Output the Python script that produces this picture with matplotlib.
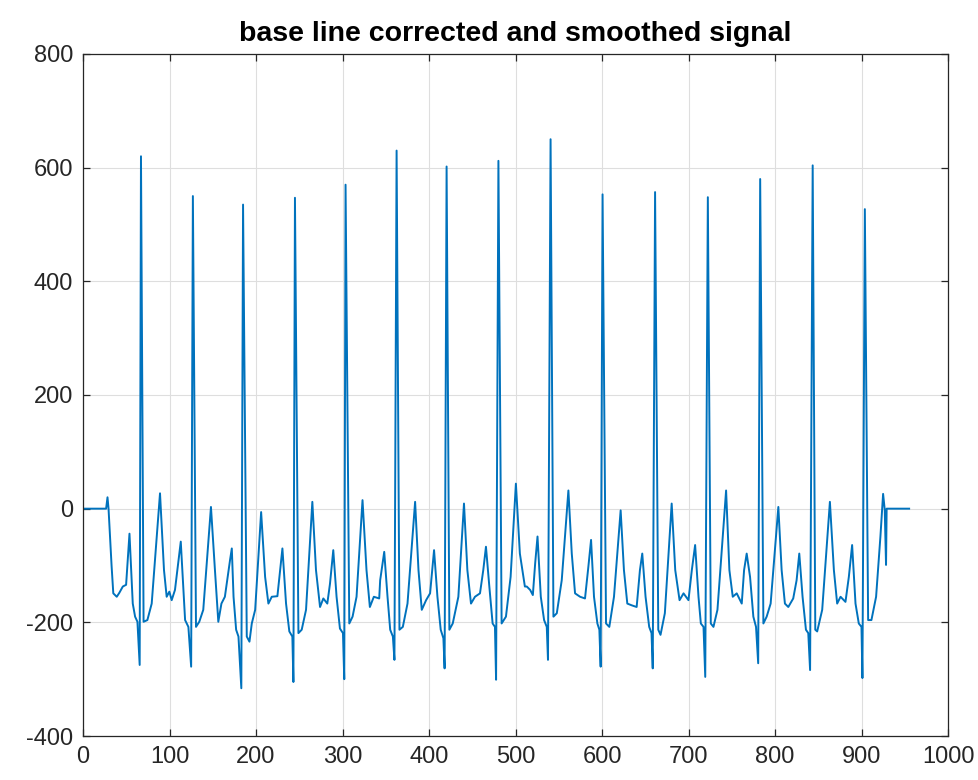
import matplotlib
matplotlib.use("Agg")
from matplotlib import pyplot as plt

plt.rcParams['font.family'] = ['Liberation Sans', 'DejaVu Sans']
plt.rcParams['axes.unicode_minus'] = False

# vertices of the signal, one row per beat
t = [0, 26.7, 28.3, 29.5, 33, 35, 39, 42, 46, 49.8, 53.7, 57.5, 60.2, 62.9,
     65.5, 67, 70, 74.4, 79.4, 89, 93.6, 96.7, 99.8, 102.5, 106.3, 113, 118, 121.8,
     125, 127, 130.6, 134.4, 139, 147.9, 152.5, 156.4, 160, 164, 170, 172, 174, 177, 179.7,
     183, 185, 189.3, 192.4, 195.1, 199, 205.9, 210.5, 214.3, 218.2, 224.7, 230.5, 234.7, 238.5, 242,
     243.2, 245, 249, 252.8, 257.8, 265.1, 269.3, 274, 277.8, 282.4, 285.5, 289.3, 293.1, 297, 300.5,
     302, 303.5, 307.8, 311.6, 316.2, 323.1, 327.7, 331.6, 336.2, 342.4, 343.5, 348.2, 352, 355.1, 358.2,
     360, 362.5, 365.8, 369.7, 375.1, 383.9, 387.8, 391.6, 396.6, 401.2, 405.8, 409.7, 413.5, 416.6,
     418, 420.3, 423.5, 427.4, 433.9, 440.4, 444.3, 448.5, 453.1, 458.9, 462.7, 465.8, 469.7, 473.5, 476.2,
     477.5, 480.2, 483.9, 488.9, 494.3, 500.4, 505, 510.8, 513, 516.9, 520, 522.7, 525.4, 529.2, 533, 536.1,
     537.5, 540.5, 543.8, 547.7, 553.4, 561.1, 565, 568.8, 574.6, 580.3, 584.2, 587.3, 590.7, 594.6, 596.9,
     598.4, 600.6, 604.6, 608.4, 613.8, 621.5, 625.3, 629.2, 634.2, 640, 643.8, 646.5, 650.3, 654.5, 657.2,
     658.6, 661.3, 665, 667.6, 672.6, 680.5, 684.6, 689.6, 694.2, 699.9, 703.8, 707.6, 711.5, 714.2, 717.3,
     719.3, 722.3, 725.7, 728.8, 733.4, 743.4, 747.2, 751.1, 755.7, 761.5, 764.2, 767.2, 771.1, 774.9, 778,
     780.5, 782.8, 786.5, 790.3, 794.9, 803.8, 807.6, 811.4, 815.3, 821, 824.9, 828, 831.8, 835.7, 838.4,
     840.5, 843.5, 846.5, 848.7, 854.5, 863.4, 868, 871.8, 875.7, 881.4, 885.3, 889.1, 893, 896.8, 899.9,
     901, 903.8, 907.6, 911.4, 916.8, 921.8, 924.9, 926.8, 928.3, 929, 955]

amp = [0, 0, 20, 0, -100, -149, -155, -148, -137, -134, -44, -167, -190, -199,
       -275, 620, -199, -196, -167, 27, -108, -155, -146, -161, -143, -58, -196, -208,
       -278, 550, -208, -199, -178, 3, -108, -199, -167, -155, -90, -70, -155, -213, -225,
       -316, 535, -225, -234, -202, -178, -6, -120, -167, -155, -154, -70, -167, -216, -225,
       -305, 547, -219, -213, -178, 12, -108, -173, -158, -167, -132, -73, -155, -211, -219,
       -300, 570, -202, -190, -155, 15, -108, -173, -155, -158, -126, -76, -155, -213, -225,
       -266, 630, -213, -208, -167, 12, -108, -178, -161, -149, -73, -155, -213, -228,
       -281, 602, -213, -202, -155, 9, -108, -167, -155, -149, -108, -67, -137, -202, -208,
       -301, 612, -202, -190, -120, 44, -79, -137, -137, -143, -152, -96, -49, -155, -196, -208,
       -266, 650, -190, -184, -126, 32, -79, -149, -155, -158, -102, -55, -155, -202, -213,
       -278, 553, -202, -208, -155, -3, -108, -167, -170, -173, -108, -79, -155, -208, -219,
       -281, 557, -213, -222, -184, 9, -108, -161, -149, -161, -108, -64, -155, -202, -208,
       -296, 548, -202, -208, -178, 32, -108, -155, -149, -167, -108, -79, -120, -190, -208,
       -272, 580, -202, -190, -167, 3, -108, -167, -173, -158, -126, -79, -155, -213, -219,
       -284, 604, -213, -216, -178, 12, -108, -167, -155, -164, -120, -64, -167, -202, -208,
       -298, 527, -196, -196, -155, -49, 26, -2, -99, 0, 0]

x_ticks = list(range(0, 1001, 100))
y_ticks = list(range(-400, 801, 200))

fig = plt.figure(figsize=(9.79, 7.80), dpi=100)
ax = fig.add_axes([0.0848, 0.0564, 0.8836, 0.8744])

ax.plot(t, amp, color='#0072BD', lw=1.4)

ax.set_xlim(0, 1000)
ax.set_ylim(-400, 800)
ax.set_xticks(x_ticks)
ax.set_yticks(y_ticks)
ax.grid(True, color='#dedede', lw=0.8)
ax.set_axisbelow(True)

for s in ax.spines.values():
    s.set_color('#262626')
    s.set_linewidth(0.9)
ax.tick_params(direction='in', top=True, right=True, length=5, width=0.9,
               color='#262626', labelsize=17, labelcolor='#262626', pad=7)

ax.set_title('base line corrected and smoothed signal', fontsize=20.5, fontweight='bold', pad=9)

fig.savefig('out.png', dpi=100, facecolor='white')
